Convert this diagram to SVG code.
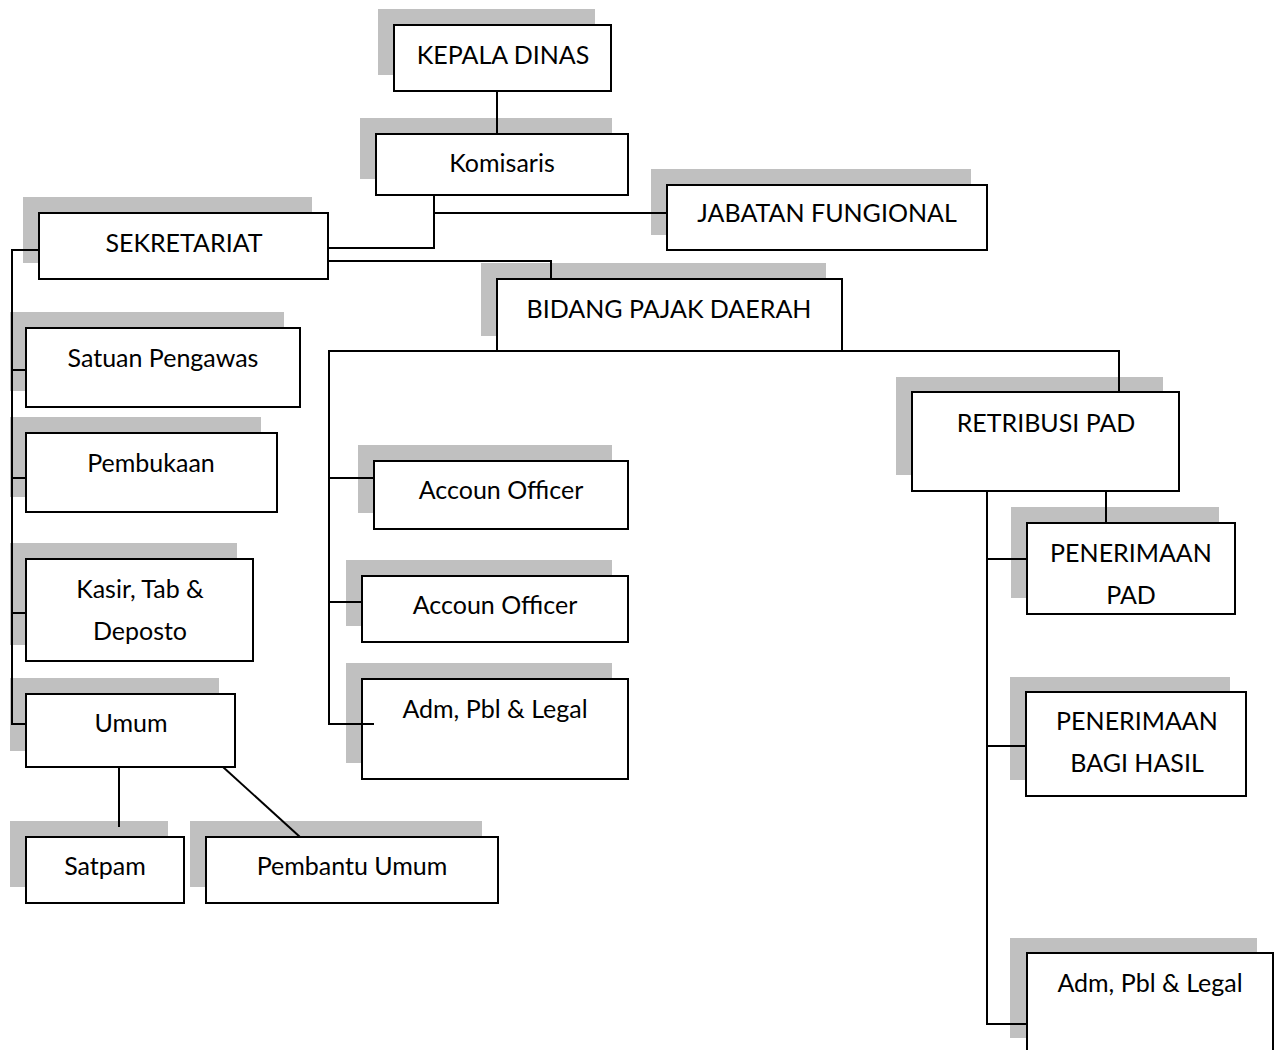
<svg xmlns="http://www.w3.org/2000/svg" width="1277" height="1050" viewBox="0 0 1277 1050">
<style>
.sh{fill:#c0c0c0;stroke:none}
.bx{fill:#fff;stroke:#000;stroke-width:2}
.t{font-family:Lato,"Liberation Sans",sans-serif;font-size:25px;fill:#000;text-anchor:middle}
.ln{fill:none;stroke:#000;stroke-width:2}
</style>
<rect width="1277" height="1050" fill="#fff"/>
<g id="kepala-dinas">
<rect class="sh" x="378" y="9" width="217" height="66"/>
<rect class="bx" x="394" y="25" width="217" height="66"/>
<text class="t" x="503" y="64">KEPALA DINAS</text>
</g>
<g id="komisaris">
<rect class="sh" x="360" y="118" width="252" height="61"/>
<rect class="bx" x="376" y="134" width="252" height="61"/>
<text class="t" x="502" y="172">Komisaris</text>
</g>
<g id="jabatan-fungsional">
<rect class="sh" x="651" y="169" width="320" height="66"/>
<rect class="bx" x="667" y="185" width="320" height="65"/>
<text class="t" x="827" y="222">JABATAN FUNGIONAL</text>
</g>
<g id="sekretariat">
<rect class="sh" x="23" y="197" width="289" height="66"/>
<rect class="bx" x="39" y="213" width="289" height="66"/>
<text class="t" x="184" y="252">SEKRETARIAT</text>
</g>
<g id="bidang-pajak-daerah">
<rect class="sh" x="481" y="263" width="345" height="73"/>
<rect class="bx" x="497" y="279" width="345" height="72"/>
<text class="t" x="669" y="318">BIDANG PAJAK DAERAH</text>
</g>
<g id="satuan-pengawas">
<rect class="sh" x="10" y="312" width="274" height="79"/>
<rect class="bx" x="26" y="328" width="274" height="79"/>
<text class="t" x="163" y="367">Satuan Pengawas</text>
</g>
<g id="pembukaan">
<rect class="sh" x="10" y="417" width="251" height="80"/>
<rect class="bx" x="26" y="433" width="251" height="79"/>
<text class="t" x="151" y="472">Pembukaan</text>
</g>
<g id="kasir">
<rect class="sh" x="10" y="543" width="227" height="102"/>
<rect class="bx" x="26" y="559" width="227" height="102"/>
<text class="t" x="140" y="598">Kasir, Tab &amp;</text>
<text class="t" x="140" y="640">Deposto</text>
</g>
<g id="umum">
<rect class="sh" x="10" y="678" width="209" height="73"/>
<rect class="bx" x="26" y="694" width="209" height="73"/>
<text class="t" x="131" y="732">Umum</text>
</g>
<g id="satpam">
<rect class="sh" x="10" y="821" width="158" height="66"/>
<rect class="bx" x="26" y="837" width="158" height="66"/>
<text class="t" x="105" y="875">Satpam</text>
</g>
<g id="pembantu-umum">
<rect class="sh" x="190" y="821" width="292" height="66"/>
<rect class="bx" x="206" y="837" width="292" height="66"/>
<text class="t" x="352" y="875">Pembantu Umum</text>
</g>
<g id="accoun-officer-1">
<rect class="sh" x="358" y="445" width="254" height="68"/>
<rect class="bx" x="374" y="461" width="254" height="68"/>
<text class="t" x="501" y="499">Accoun Officer</text>
</g>
<g id="accoun-officer-2">
<rect class="sh" x="346" y="560" width="266" height="66"/>
<rect class="bx" x="362" y="576" width="266" height="66"/>
<text class="t" x="495" y="614">Accoun Officer</text>
</g>
<g id="adm-pbl-legal-1">
<rect class="sh" x="346" y="663" width="266" height="100"/>
<rect class="bx" x="362" y="679" width="266" height="100"/>
<text class="t" x="495" y="718">Adm, Pbl &amp; Legal</text>
</g>
<g id="retribusi-pad">
<rect class="sh" x="896" y="377" width="267" height="98"/>
<rect class="bx" x="912" y="392" width="267" height="99"/>
<text class="t" x="1046" y="432">RETRIBUSI PAD</text>
</g>
<g id="penerimaan-pad">
<rect class="sh" x="1011" y="507" width="208" height="91"/>
<rect class="bx" x="1027" y="523" width="208" height="91"/>
<text class="t" x="1131" y="562">PENERIMAAN</text>
<text class="t" x="1131" y="604">PAD</text>
</g>
<g id="penerimaan-bagi-hasil">
<rect class="sh" x="1010" y="677" width="220" height="103"/>
<rect class="bx" x="1026" y="692" width="220" height="104"/>
<text class="t" x="1137" y="730">PENERIMAAN</text>
<text class="t" x="1137" y="772">BAGI HASIL</text>
</g>
<g id="adm-pbl-legal-2">
<rect class="sh" x="1010" y="938" width="247" height="100"/>
<rect class="bx" x="1027" y="953" width="246" height="101"/>
<text class="t" x="1150" y="992">Adm, Pbl &amp; Legal</text>
</g>
<g id="connectors">
<path class="ln" d="M497,91 V134"/>
<path class="ln" d="M434,195 V248 H328"/>
<path class="ln" d="M434,213 H667"/>
<path class="ln" d="M328,261 H551 V279"/>
<path class="ln" d="M39,250 H12 V724 H26 M12,370 H26 M12,478 H26 M12,613 H26"/>
<path class="ln" d="M119,767 V827"/>
<path class="ln" d="M223,767 L300,837"/>
<path class="ln" d="M497,351 H329 V724 H374 M329,478 H374 M329,602 H362"/>
<path class="ln" d="M842,351 H1119 V392"/>
<path class="ln" d="M1106,491 V523"/>
<path class="ln" d="M987,491 V1024 H1027 M987,559 H1027 M987,746 H1027"/>
</g>
</svg>
